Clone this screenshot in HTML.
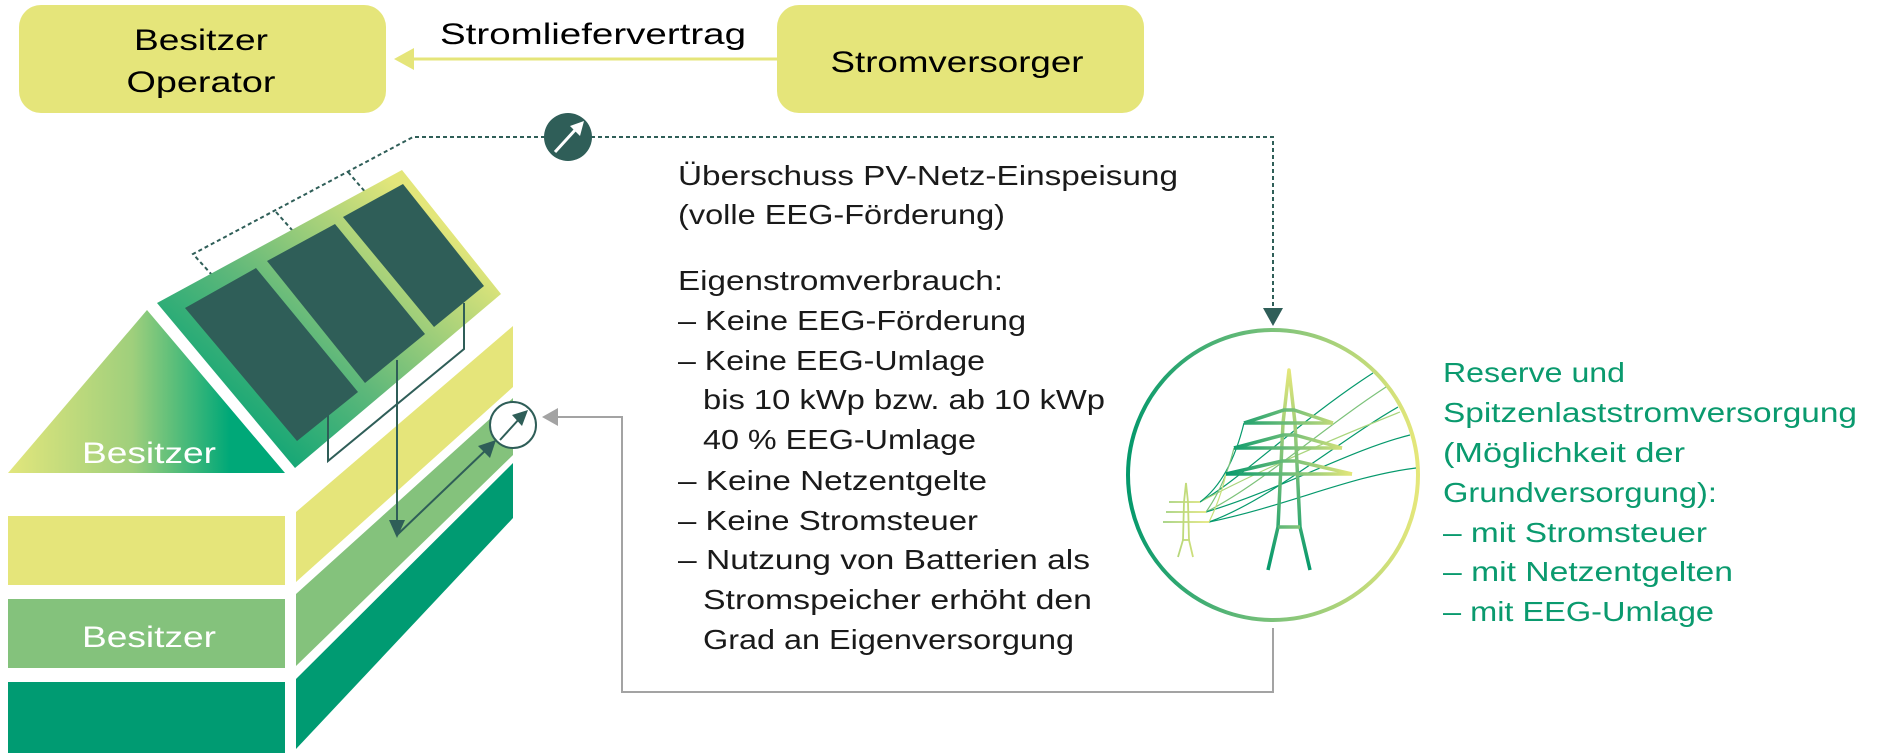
<!DOCTYPE html>
<html><head><meta charset="utf-8"><style>
html,body{margin:0;padding:0;background:#fff;}
svg{display:block;}
text{font-family:"Liberation Sans",sans-serif;}
</style></head><body>
<svg width="1891" height="753" viewBox="0 0 1891 753" xmlns="http://www.w3.org/2000/svg">
<defs>
<linearGradient id="roof" x1="0.15" y1="0.9" x2="0.85" y2="0.2">
<stop offset="0" stop-color="#00a274"/><stop offset="0.45" stop-color="#5fb87a"/><stop offset="1" stop-color="#e3e67a"/></linearGradient>
<linearGradient id="tri" x1="0" y1="0" x2="1" y2="0">
<stop offset="0" stop-color="#e2e67c"/><stop offset="0.45" stop-color="#9fcf7c"/><stop offset="0.8" stop-color="#00a878"/><stop offset="1" stop-color="#00a878"/></linearGradient>
<linearGradient id="ring" x1="0" y1="0" x2="1" y2="0">
<stop offset="0" stop-color="#05996c"/><stop offset="0.5" stop-color="#7cc27a"/><stop offset="1" stop-color="#e5e77a"/></linearGradient>
<linearGradient id="tw" gradientUnits="userSpaceOnUse" x1="1226" y1="0" x2="1352" y2="0">
<stop offset="0" stop-color="#05996c"/><stop offset="0.5" stop-color="#6fbd78"/><stop offset="1" stop-color="#e5e77a"/></linearGradient>
<linearGradient id="twv" gradientUnits="userSpaceOnUse" x1="0" y1="370" x2="0" y2="570">
<stop offset="0" stop-color="#e5e77a"/><stop offset="0.5" stop-color="#6fbd78"/><stop offset="1" stop-color="#05996c"/></linearGradient>
<linearGradient id="tw2" gradientUnits="userSpaceOnUse" x1="1163" y1="0" x2="1209" y2="0">
<stop offset="0" stop-color="#9fcf7c"/><stop offset="1" stop-color="#e5e77a"/></linearGradient>
</defs>

<!-- top boxes -->
<rect x="19" y="5" width="367" height="108" rx="22" fill="#e5e57a"/>
<rect x="777" y="5" width="367" height="108" rx="22" fill="#e5e57a"/>
<text x="201" y="50" font-size="30" text-anchor="middle" textLength="134" lengthAdjust="spacingAndGlyphs">Besitzer</text>
<text x="201" y="92" font-size="30" text-anchor="middle" textLength="149" lengthAdjust="spacingAndGlyphs">Operator</text>
<text x="957" y="72" font-size="30" text-anchor="middle" textLength="253" lengthAdjust="spacingAndGlyphs">Stromversorger</text>
<text x="440" y="44" font-size="30" textLength="306" lengthAdjust="spacingAndGlyphs">Stromliefervertrag</text>
<line x1="777" y1="59" x2="408" y2="59" stroke="#e5e57a" stroke-width="3"/>
<polygon points="394,59 414,48 414,70" fill="#e5e57a"/>

<!-- dotted lines -->
<g stroke="#2f5e58" stroke-width="2" stroke-dasharray="4,3" fill="none">
<polyline points="545,137 413,137 193,254 222,286"/>
<line x1="276" y1="212" x2="300" y2="239"/>
<line x1="348" y1="172" x2="373" y2="201"/>
<polyline points="591,137 1273,137 1273,310"/>
</g>
<polygon points="1273,326 1263,308 1283,308" fill="#2f5e58"/>
<circle cx="568" cy="137" r="24" fill="#2f5e58"/>
<line x1="555" y1="152" x2="576" y2="129" stroke="#fff" stroke-width="3"/>
<polygon points="584,121 570,126 580,136" fill="#fff"/>

<!-- house -->
<polygon points="147,310 8,473 285,473" fill="url(#tri)"/>
<text x="149" y="463" font-size="30" fill="#fff" text-anchor="middle" textLength="134" lengthAdjust="spacingAndGlyphs">Besitzer</text>
<polygon points="157,303 402,170 501,294 295,468" fill="url(#roof)"/>
<polygon points="185,308 256,268 358,392 297,441" fill="#2f5e58"/>
<polygon points="267,261 335,224 425,334 365,383" fill="#2f5e58"/>
<polygon points="343,217 403,184 484,286 434,327" fill="#2f5e58"/>

<rect x="8" y="516" width="277" height="69" fill="#e5e57a"/>
<rect x="8" y="599" width="277" height="69" fill="#84c27c"/>
<rect x="8" y="682" width="277" height="71" fill="#009b72"/>
<text x="149" y="647" font-size="30" fill="#fff" text-anchor="middle" textLength="134" lengthAdjust="spacingAndGlyphs">Besitzer</text>
<polygon points="296,512 513,326 513,387 296,582" fill="#e5e57a"/>
<polygon points="296,594 513,398 513,455 296,666" fill="#84c27c"/>
<polygon points="296,679 513,463 513,518 296,749" fill="#009b72"/>

<!-- wiring -->
<g stroke="#2f5e58" stroke-width="2" fill="none">
<polyline points="464,303 464,349 328,461 328,415"/>
<line x1="397" y1="360" x2="397" y2="522"/>
<line x1="397" y1="535" x2="488" y2="448"/>
</g>
<polygon points="397,538 389,520 405,520" fill="#2f5e58"/>
<polygon points="496,440 478,446 490,458" fill="#2f5e58"/>
<circle cx="513" cy="425" r="23" fill="#fff" stroke="#2f5e58" stroke-width="2"/>
<line x1="500" y1="440" x2="520" y2="418" stroke="#2f5e58" stroke-width="2"/>
<polygon points="528,410 512,415 522,426" fill="#2f5e58"/>

<!-- gray return line -->
<polyline points="1273,628 1273,692 622,692 622,417 555,417" stroke="#a3a3a3" stroke-width="2" fill="none"/>
<polygon points="542,417 558,408 558,426" fill="#a3a3a3"/>

<!-- circle with towers -->
<circle cx="1273" cy="475" r="145" fill="none" stroke="url(#ring)" stroke-width="4"/>
<g fill="none" stroke-width="1.2">
<path d="M1200,502 C1240,480 1300,420 1373,373" stroke="#05996c"/>
<path d="M1206,512 C1260,485 1320,430 1386,387" stroke="#7cc27a"/>
<path d="M1209,522 C1270,500 1340,440 1398,407" stroke="#05996c"/>
<path d="M1200,502 C1260,470 1330,440 1400,412" stroke="#a9d57c"/>
<path d="M1206,512 C1280,490 1350,450 1410,435" stroke="#05996c"/>
<path d="M1209,522 C1290,505 1350,476 1416,468" stroke="#05996c"/>
<path d="M1200,502 Q1230,480 1244,423" stroke="#05996c"/>
<path d="M1206,512 Q1225,485 1234,448" stroke="#7cc27a"/>
<path d="M1209,522 Q1220,500 1226,474" stroke="#c9e07a"/>
</g>
<g stroke="url(#twv)" stroke-width="3.5" fill="none" stroke-linejoin="round">
<polyline points="1268,570 1278,527 1283,423 1289,370 1295,423 1300,527 1310,570"/>
</g>
<g stroke="url(#tw)" stroke-width="3.5" fill="none">
<line x1="1278" y1="527" x2="1300" y2="527"/>
<line x1="1244" y1="423" x2="1333" y2="423"/>
<line x1="1234" y1="448" x2="1342" y2="448"/>
<line x1="1226" y1="474" x2="1352" y2="474"/>
<polyline points="1244,423 1284,410 1294,410 1333,423"/>
<polyline points="1234,448 1283,435 1295,435 1342,448"/>
<polyline points="1226,474 1282,461 1296,461 1352,474"/>
</g>
<g stroke="url(#tw2)" stroke-width="1.8" fill="none">
<polyline points="1178,557 1183,540 1184,502 1186,483 1188,502 1189,540 1193,557"/>
<line x1="1169" y1="502" x2="1200" y2="502"/>
<line x1="1166" y1="512" x2="1206" y2="512"/>
<line x1="1163" y1="522" x2="1209" y2="522"/>
<line x1="1182" y1="540" x2="1190" y2="540"/>
</g>

<!-- middle text -->
<g font-size="28" fill="#1a1a1a">
<text x="678" y="185" textLength="500" lengthAdjust="spacingAndGlyphs">Überschuss PV-Netz-Einspeisung</text>
<text x="678" y="224" textLength="327" lengthAdjust="spacingAndGlyphs">(volle EEG-Förderung)</text>
<text x="678" y="290" textLength="325" lengthAdjust="spacingAndGlyphs">Eigenstromverbrauch:</text>
<text x="678" y="330" textLength="348" lengthAdjust="spacingAndGlyphs">– Keine EEG-Förderung</text>
<text x="678" y="370" textLength="307" lengthAdjust="spacingAndGlyphs">– Keine EEG-Umlage</text>
<text x="703" y="409" textLength="402" lengthAdjust="spacingAndGlyphs">bis 10 kWp bzw. ab 10 kWp</text>
<text x="703" y="449" textLength="273" lengthAdjust="spacingAndGlyphs">40 % EEG-Umlage</text>
<text x="678" y="490" textLength="309" lengthAdjust="spacingAndGlyphs">– Keine Netzentgelte</text>
<text x="678" y="530" textLength="300" lengthAdjust="spacingAndGlyphs">– Keine Stromsteuer</text>
<text x="678" y="569" textLength="412" lengthAdjust="spacingAndGlyphs">– Nutzung von Batterien als</text>
<text x="703" y="609" textLength="389" lengthAdjust="spacingAndGlyphs">Stromspeicher erhöht den</text>
<text x="703" y="649" textLength="371" lengthAdjust="spacingAndGlyphs">Grad an Eigenversorgung</text>
</g>

<!-- right text -->
<g font-size="28" fill="#0a9a6e">
<text x="1443" y="382" textLength="182" lengthAdjust="spacingAndGlyphs">Reserve und</text>
<text x="1443" y="422" textLength="414" lengthAdjust="spacingAndGlyphs">Spitzenlaststromversorgung</text>
<text x="1443" y="462" textLength="242" lengthAdjust="spacingAndGlyphs">(Möglichkeit der</text>
<text x="1443" y="502" textLength="274" lengthAdjust="spacingAndGlyphs">Grundversorgung):</text>
<text x="1443" y="542" textLength="264" lengthAdjust="spacingAndGlyphs">– mit Stromsteuer</text>
<text x="1443" y="581" textLength="290" lengthAdjust="spacingAndGlyphs">– mit Netzentgelten</text>
<text x="1443" y="621" textLength="271" lengthAdjust="spacingAndGlyphs">– mit EEG-Umlage</text>
</g>
</svg>
</body></html>
